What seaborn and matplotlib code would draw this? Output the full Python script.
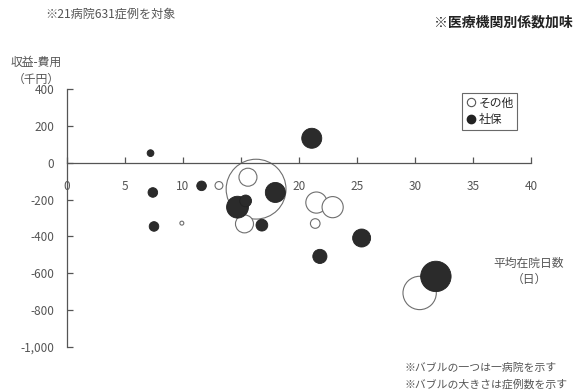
import matplotlib
matplotlib.use("Agg")
import matplotlib.pyplot as plt
from matplotlib.lines import Line2D
import seaborn as sns
import pandas as pd

# Hospitals: average length of stay (days), revenue minus cost (thousand yen), cases
other_days = [9.9, 13.1, 16.3, 15.6, 15.3, 21.5, 22.9, 21.4, 30.4]
other_profit = [-328, -123, -143, -78, -332, -216, -241, -330, -708]
other_cases = [1, 4, 232, 21, 21, 29, 29, 6, 72]

shaho_days = [7.2, 7.4, 7.5, 11.6, 14.7, 15.4, 17.96, 16.8, 21.1, 25.4, 21.8, 31.8]
shaho_profit = [53, -161, -346, -125, -241, -207, -161, -339, 134, -409, -509, -618]
shaho_cases = [3, 6, 6, 6, 31, 9, 26, 9, 26, 21, 13, 60]

group_labels = ["その他", "社保"]
x_ticks = [0, 5, 10, 15, 20, 25, 30, 35, 40]
y_ticks = [400, 200, 0, -200, -400, -600, -800, -1000]
y_tick_labels = ["400", "200", "0", "-200", "-400", "-600", "-800", "-1,000"]

sns.set_theme(style="white")
plt.rcParams["font.family"] = ["Noto Sans CJK JP", "DejaVu Sans"]

W, H = 575, 392
fig = plt.figure(figsize=(W / 100, H / 100), dpi=100)
fig.patch.set_facecolor("white")

x0, x1 = 67, 531
ytop, ybot = 89.4, 346.6
ax = fig.add_axes([x0 / W, 1 - ybot / H, (x1 - x0) / W, (ybot - ytop) / H])
ax.set_facecolor("none")

other = pd.DataFrame({"days": other_days, "profit": other_profit, "cases": other_cases})
shaho = pd.DataFrame({"days": shaho_days, "profit": shaho_profit, "cases": shaho_cases})
other = other.sort_values("cases", ascending=False)
shaho = shaho.sort_values("cases", ascending=False)

cmax = 232
smax = 232 * 8.0
sns.scatterplot(data=other, x="days", y="profit", size="cases", sizes=(0, smax),
                size_norm=(0, cmax), color="white", edgecolor="#6e6e6e",
                linewidth=0.8, legend=False, ax=ax, zorder=2, clip_on=False)
sns.scatterplot(data=shaho, x="days", y="profit", size="cases", sizes=(0, smax),
                size_norm=(0, cmax), color="#2b2b2b", edgecolor="#222222",
                linewidth=0.6, legend=False, ax=ax, zorder=3, clip_on=False)

ax.set_xlim(0, 40)
ax.set_ylim(-1000, 400)
ax.set_xlabel("")
ax.set_ylabel("")

for s in ["top", "right"]:
    ax.spines[s].set_visible(False)
ax.spines["left"].set_position(("data", 0))
ax.spines["bottom"].set_position(("data", 0))
for s in ["left", "bottom"]:
    ax.spines[s].set_color("#555555")
    ax.spines[s].set_linewidth(0.9)

ax.set_xticks(x_ticks)
ax.set_xticklabels([str(t) for t in x_ticks])
ax.set_yticks(y_ticks)
ax.set_yticklabels(y_tick_labels)
ax.tick_params(axis="x", direction="in", length=4, width=0.9, color="#555555",
               pad=12, labelsize=8.5, labelcolor="#555555")
ax.tick_params(axis="y", direction="in", length=4, width=0.9, color="#555555",
               pad=9, labelsize=8.5, labelcolor="#555555")
ax.tick_params(bottom=True, left=True)

handles = [
    Line2D([], [], marker="o", linestyle="", markersize=6, markerfacecolor="white",
           markeredgecolor="#555555", markeredgewidth=0.8),
    Line2D([], [], marker="o", linestyle="", markersize=6, markerfacecolor="#222222",
           markeredgecolor="#222222"),
]
leg = fig.legend(handles, group_labels, loc="upper left",
                 bbox_to_anchor=(462 / W, 1 - 93 / H), frameon=True, fancybox=False,
                 fontsize=8.5, handletextpad=0.1, handlelength=1.0,
                 borderpad=0.3, labelspacing=0.3, borderaxespad=0)
leg.get_frame().set_edgecolor("#444444")
leg.get_frame().set_linewidth(0.8)

def ftext(px, py, s, **kw):
    fig.text(px / W, 1 - py / H, s, **kw)

grey = "#555555"
ftext(45, 14, "※21病院631症例を対象", fontsize=8.7, color=grey, va="center", ha="left")
ftext(573, 22, "※医療機関別係数加味", fontsize=10, color="#222222", va="center",
      ha="right", fontweight="bold")
ftext(36, 62, "収益-費用", fontsize=8.5, color=grey, va="center", ha="center")
ftext(36, 79, "（千円）", fontsize=8.5, color=grey, va="center", ha="center")
ftext(529, 263, "平均在院日数", fontsize=8.5, color=grey, va="center", ha="center")
ftext(529, 279, "（日）", fontsize=8.5, color=grey, va="center", ha="center")
ftext(405, 368, "※バブルの一つは一病院を示す", fontsize=7.8, color=grey, va="center", ha="left")
ftext(405, 384, "※バブルの大きさは症例数を示す", fontsize=7.8, color=grey, va="center", ha="left")

fig.savefig("out.png", dpi=100, facecolor="white")
